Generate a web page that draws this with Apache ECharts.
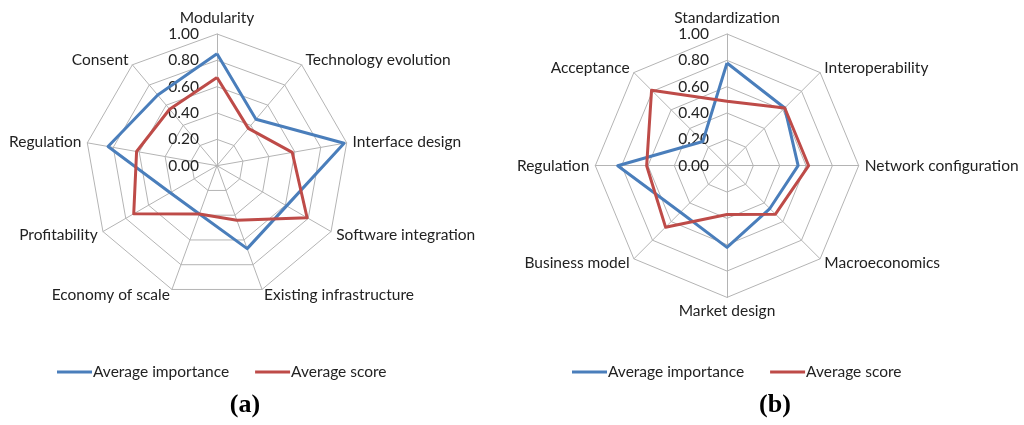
<!DOCTYPE html>
<html>
<head>
<meta charset="utf-8">
<script src="https://cdn.jsdelivr.net/npm/echarts@6/dist/echarts.min.js"></script>
<style>
  html, body { margin: 0; padding: 0; background: #fff; }
  #chart { width: 1024px; height: 425px; }
</style>
</head>
<body>
<div id="chart"></div>
<script>
// (a) axes, clockwise from the top
var leftAxes = ['Modularity', 'Technology evolution', 'Interface design', 'Software integration',
  'Existing infrastructure', 'Economy of scale', 'Profitability', 'Regulation', 'Consent'];
var leftImportance = [0.85, 0.46, 0.98, 0.61, 0.67, 0.39, 0.41, 0.84, 0.70];
var leftScore = [0.67, 0.37, 0.58, 0.79, 0.44, 0.39, 0.73, 0.62, 0.56];

// (b) axes, clockwise from the top
var rightAxes = ['Standardization', 'Interoperability', 'Network configuration', 'Macroeconomics',
  'Market design', 'Business model', 'Regulation', 'Acceptance'];
var rightImportance = [0.78, 0.62, 0.54, 0.46, 0.62, 0.50, 0.83, 0.26];
var rightScore = [0.49, 0.62, 0.62, 0.52, 0.37, 0.66, 0.61, 0.81];

var seriesNames = ['Average importance', 'Average score'];
var colors = ['#4a7ebb', '#be4b48'];

// echarts lays radar axes counter-clockwise, so flip the order after the first one
function ccw(arr) {
  return [arr[0]].concat(arr.slice(1).reverse());
}

function indicators(names) {
  return ccw(names).map(function (n, i) {
    var ind = { name: n, min: 0, max: 1 };
    if (i === 0) ind.axisLabel = { show: true };
    return ind;
  });
}

var font = 'Lato';
var fs = 15.5;

function radar(cx, names) {
  return {
    center: [cx, 165.7],
    radius: 131.7,
    startAngle: 90,
    shape: 'polygon',
    splitNumber: 5,
    indicator: indicators(names),
    axisName: { color: '#222', fontSize: fs, fontFamily: font },
    nameGap: 6,
    axisLine: { lineStyle: { color: '#b4b4b4', width: 1 } },
    splitLine: { lineStyle: { color: '#b4b4b4', width: 1 } },
    splitArea: { show: false },
    axisTick: { show: false },
    axisLabel: {
      show: false,
      color: '#222',
      fontSize: fs,
      fontFamily: font,
      margin: 18,
      showMinLabel: true,
      showMaxLabel: true,
      formatter: function (v) { return v.toFixed(2); }
    }
  };
}

function radarSeries(idx, a, b) {
  return {
    type: 'radar',
    radarIndex: idx,
    symbol: 'none',
    data: [a, b].map(function (vals, k) {
      return {
        name: seriesNames[k],
        value: ccw(vals),
        lineStyle: { color: colors[k], width: 3 },
        itemStyle: { color: colors[k] }
      };
    })
  };
}

function legend(left) {
  return {
    left: left,
    top: 359,
    data: seriesNames,
    icon: 'rect',
    itemWidth: 35,
    itemHeight: 3,
    itemGap: 26,
    textStyle: { color: '#222', fontSize: fs, fontFamily: font, padding: [0, 0, 0, -4] }
  };
}

var captionStyle = { fontFamily: 'Liberation Serif', fontWeight: 'bold', fontSize: 26, color: '#000' };

var chart = echarts.init(document.getElementById('chart'));
chart.setOption({
  animation: false,
  color: colors,
  title: [
    { text: '(a)', left: 240, top: 387, textAlign: 'center', textStyle: captionStyle },
    { text: '(b)', left: 770, top: 387, textAlign: 'center', textStyle: captionStyle }
  ],
  legend: [legend(52), legend(567)],
  radar: [radar(217, leftAxes), radar(727, rightAxes)],
  series: [
    radarSeries(0, leftImportance, leftScore),
    radarSeries(1, rightImportance, rightScore)
  ]
});
</script>
</body>
</html>
